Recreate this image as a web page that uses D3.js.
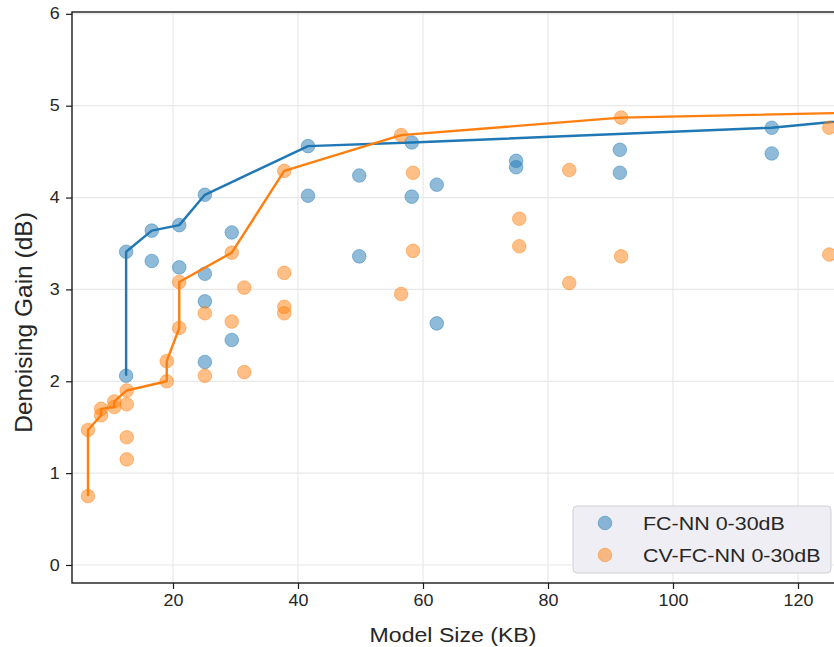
<!DOCTYPE html>
<html>
<head>
<meta charset="utf-8">
<script src="https://cdn.jsdelivr.net/npm/d3@7/dist/d3.min.js"></script>
<style>
  html, body { margin: 0; padding: 0; background: #fff; }
  svg { display: block; }
  text { font-family: "Liberation Sans", Arial, sans-serif; }
</style>
</head>
<body>
<svg id="chart" width="834" height="647"></svg>
<script>
// Model size (KB) and denoising gain (dB) for each trained network
const fcSize = [12.5, 12.5, 16.6, 16.6, 21.0, 21.0, 25.1, 25.1, 25.1, 25.1, 29.4, 29.4,
                41.6, 41.6, 49.8, 49.8, 58.2, 58.2, 62.2, 62.2, 74.9, 74.9, 91.5, 91.5,
                115.8, 115.8, 140.0];
const fcGain = [2.06, 3.41, 3.64, 3.31, 3.70, 3.24, 4.03, 3.17, 2.87, 2.21, 3.62, 2.45,
                4.56, 4.02, 4.24, 3.36, 4.60, 4.01, 4.14, 2.63, 4.40, 4.33, 4.52, 4.27,
                4.76, 4.48, 4.92];

const cvSize = [6.4, 6.4, 8.5, 8.5, 10.6, 10.6, 12.6, 12.6, 12.6, 12.6, 19.0, 19.0,
                21.0, 21.0, 25.1, 25.1, 29.4, 29.4, 31.4, 31.4, 37.8, 37.8, 37.8, 37.8,
                56.5, 56.5, 58.4, 58.4, 75.4, 75.4, 83.4, 83.4, 91.7, 91.7, 125.0, 125.0, 140.0];
const cvGain = [0.75, 1.47, 1.70, 1.63, 1.78, 1.72, 1.90, 1.75, 1.39, 1.15, 2.22, 2.00,
                2.58, 3.08, 2.74, 2.06, 3.40, 2.65, 3.02, 2.10, 4.29, 3.18, 2.81, 2.74,
                4.68, 2.95, 4.27, 3.42, 3.77, 3.47, 4.30, 3.07, 4.87, 3.36, 4.76, 3.38, 4.94];

const seriesNames = ["FC-NN 0-30dB", "CV-FC-NN 0-30dB"];
const seriesColors = ["#1f77b4", "#ff7f0e"];
const xTicks = [20, 40, 60, 80, 100, 120];
const yTicks = [0, 1, 2, 3, 4, 5, 6];
const xLabel = "Model Size (KB)";
const yLabel = "Denoising Gain (dB)";

const svg = d3.select("#chart");
const plot = { left: 72, top: 12, bottom: 583, right: 923 };

const x = d3.scaleLinear().domain([3.84, 140]).range([plot.left, plot.right]);
const y = d3.scaleLinear().domain([-0.196, 6.02]).range([plot.bottom, plot.top]);

// gridlines
const grid = svg.append("g");
grid.selectAll("line.gx").data(xTicks).join("line")
  .attr("x1", d => x(d)).attr("x2", d => x(d))
  .attr("y1", plot.top).attr("y2", plot.bottom)
  .attr("stroke", "#e8e8e8").attr("stroke-width", 1.2);
grid.selectAll("line.gy").data(yTicks).join("line")
  .attr("y1", d => y(d)).attr("y2", d => y(d))
  .attr("x1", plot.left).attr("x2", plot.right)
  .attr("stroke", "#e8e8e8").attr("stroke-width", 1.2);

// build the upper envelope: walk points by size, keep each one that reaches a new best gain
function front(sizes, gains) {
  const pts = sizes.map((s, i) => [s, gains[i]])
    .sort((a, b) => a[0] - b[0] || a[1] - b[1]);
  const out = [];
  let best = -Infinity;
  pts.forEach(p => { if (p[1] >= best) { out.push(p); best = p[1]; } });
  return out;
}

const series = [
  { size: fcSize, gain: fcGain },
  { size: cvSize, gain: cvGain }
];

const line = d3.line().x(d => x(d[0])).y(d => y(d[1]));
const marks = svg.append("g");

series.forEach((s, k) => {
  const col = seriesColors[k];
  marks.append("g").selectAll("circle")
    .data(s.size.map((v, i) => [v, s.gain[i]]))
    .join("circle")
    .attr("cx", d => x(d[0])).attr("cy", d => y(d[1]))
    .attr("r", 6.8)
    .attr("fill", col).attr("fill-opacity", 0.5)
    .attr("stroke", col).attr("stroke-opacity", 0.45).attr("stroke-width", 1);
  marks.append("path")
    .datum(front(s.size, s.gain))
    .attr("d", line)
    .attr("fill", "none")
    .attr("stroke", col).attr("stroke-width", 2.4)
    .attr("stroke-linejoin", "round");
});

// axis frame
svg.append("rect")
  .attr("x", plot.left).attr("y", plot.top)
  .attr("width", plot.right - plot.left).attr("height", plot.bottom - plot.top)
  .attr("fill", "none").attr("stroke", "#1a1a1a").attr("stroke-width", 1.4);

// axes
const xAxis = svg.append("g")
  .attr("transform", `translate(0,${plot.bottom})`)
  .call(d3.axisBottom(x).tickValues(xTicks).tickSize(6).tickPadding(6).tickFormat(d3.format("d")));
const yAxis = svg.append("g")
  .attr("transform", `translate(${plot.left},0)`)
  .call(d3.axisLeft(y).tickValues(yTicks).tickSize(6).tickPadding(5).tickFormat(d3.format("d")));
[xAxis, yAxis].forEach(a => {
  a.select(".domain").remove();
  a.selectAll(".tick line").attr("stroke", "#1a1a1a").attr("stroke-width", 1.2);
  a.selectAll(".tick text").attr("fill", "#262626")
    .style("font-family", "'Liberation Sans', Arial, sans-serif").style("font-size", "16px");
});
// slightly wide lettering for the tick numbers
xAxis.selectAll(".tick text").attr("transform", "scale(1.12,1)");
yAxis.selectAll(".tick text").attr("transform", "scale(1.12,1)");

svg.append("g").attr("transform", "translate(453,642)")
  .append("text")
  .attr("transform", "scale(1.1,1)")
  .attr("text-anchor", "middle")
  .attr("fill", "#262626").style("font-size", "21px")
  .text(xLabel);
svg.append("text")
  .attr("transform", `translate(32,${(plot.top + plot.bottom) / 2 + 25}) rotate(-90)`)
  .attr("text-anchor", "middle")
  .attr("fill", "#262626").style("font-size", "24.5px")
  .text(yLabel);

// legend
const lg = svg.append("g").attr("transform", "translate(573,506)");
lg.append("rect")
  .attr("width", 258).attr("height", 67).attr("rx", 4)
  .attr("fill", "#eeeef4").attr("stroke", "#cfcfd6").attr("stroke-width", 1);
seriesNames.forEach((name, k) => {
  const row = lg.append("g").attr("transform", `translate(0,${17 + k * 32})`);
  row.append("circle").attr("cx", 32).attr("cy", 0).attr("r", 6.8)
    .attr("fill", seriesColors[k]).attr("fill-opacity", 0.5)
    .attr("stroke", seriesColors[k]).attr("stroke-opacity", 0.45).attr("stroke-width", 1);
  row.append("text").attr("transform", "translate(70,7) scale(1.16,1)")
    .attr("fill", "#262626").style("font-size", "18.5px")
    .text(name);
});
</script>
</body>
</html>
